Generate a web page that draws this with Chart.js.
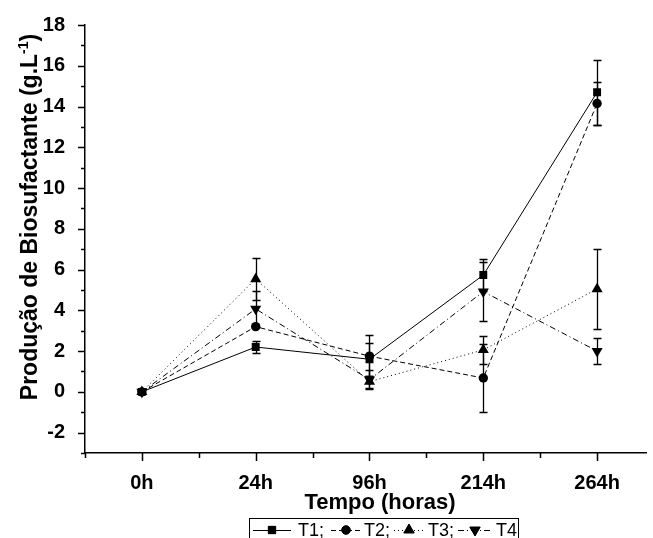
<!DOCTYPE html>
<html>
<head>
<meta charset="utf-8">
<script src="https://cdn.jsdelivr.net/npm/chart.js@4.4.1/dist/chart.umd.min.js"></script>
<style>
  html, body { margin: 0; padding: 0; background: #fff; }
</style>
</head>
<body>
<canvas id="grafico" width="653" height="538"></canvas>
<script>
// tempos de coleta
const categorias = ["0h", "24h", "96h", "214h", "264h"];

// producao media (g/L) por tratamento
const t1 = [0, 2.2, 1.6, 5.73, 14.7];
const t2 = [0, 3.2, 1.75, 0.68, 14.15];
const t3 = [0, 5.54, 0.5, 2.06, 5.05];
const t4 = [0, 4.07, 0.6, 4.92, 2.0];

// desvio padrao
const erroT1 = [0, 0.3, 0.8, 0.78, 1.6];
const erroT2 = [0, 0, 1.05, 1.67, 1.05];
const erroT3 = [0, 1.05, 0.3, 0.7, 1.95];
const erroT4 = [0, 0.9, 0.45, 1.45, 0.65];

const nomes = ["T1", "T2", "T3", "T4"];
const ticksY = [-2, 0, 2, 4, 6, 8, 10, 12, 14, 16, 18];

const FONTE = "'Liberation Sans', Arial, sans-serif";

const series = [
  { nome: nomes[0], valores: t1, erro: erroT1, estilo: "rect", raio: 5.6, rot: 0, dash: [] },
  { nome: nomes[1], valores: t2, erro: erroT2, estilo: "circle", raio: 4.7, rot: 0, dash: [5, 3] },
  { nome: nomes[2], valores: t3, erro: erroT3, estilo: "triangle", raio: 6.4, rot: 0, dash: [1, 3] },
  { nome: nomes[3], valores: t4, erro: erroT4, estilo: "triangle", raio: 6.4, rot: 180, dash: [6, 3, 1, 3] },
];

// barras de erro, desenhadas antes das linhas/pontos
const barrasErro = {
  id: "barrasErro",
  beforeDatasetsDraw(chart) {
    const { ctx, scales: { x, y } } = chart;
    ctx.save();
    ctx.strokeStyle = "#000";
    ctx.lineWidth = 1.3;
    series.forEach((s) => {
      s.valores.forEach((v, i) => {
        const e = s.erro[i];
        if (!e) return;
        const px = Math.round(x.getPixelForValue(i)) + 0.5;
        const topo = Math.round(y.getPixelForValue(v + e)) + 0.5;
        const base = Math.round(y.getPixelForValue(v - e)) + 0.5;
        ctx.beginPath();
        ctx.moveTo(px, topo); ctx.lineTo(px, base);
        ctx.moveTo(px - 4, topo); ctx.lineTo(px + 4, topo);
        ctx.moveTo(px - 4, base); ctx.lineTo(px + 4, base);
        ctx.stroke();
      });
    });
    ctx.restore();
  },
};

// marcas dos eixos (maiores e menores), titulos e legenda em caixa
const extras = {
  id: "extras",
  afterDraw(chart) {
    const { ctx, scales: { x, y }, chartArea } = chart;
    ctx.save();
    ctx.strokeStyle = "#000";
    ctx.lineWidth = 1.5;
    ctx.beginPath();
    for (let v = -3; v <= 18; v++) {
      const py = Math.round(y.getPixelForValue(v)) + 0.5;
      const len = v % 2 === 0 ? 7 : 4;
      ctx.moveTo(chartArea.left, py);
      ctx.lineTo(chartArea.left - len, py);
    }
    for (let v = -0.5; v <= 4.01; v += 0.5) {
      const px = Math.round(x.getPixelForValue(v)) + 0.5;
      const len = Number.isInteger(v) ? 8 : 5;
      ctx.moveTo(px, chartArea.bottom);
      ctx.lineTo(px, chartArea.bottom + len);
    }
    ctx.stroke();

    // titulo do eixo x
    ctx.fillStyle = "#000";
    ctx.font = "bold 22px " + FONTE;
    ctx.textAlign = "center";
    ctx.textBaseline = "alphabetic";
    ctx.fillText("Tempo (horas)", 380, 509);

    // titulo do eixo y com expoente
    const p1 = "Produção de Biosufactante (g.L";
    const sup = "-1";
    const p2 = ")";
    ctx.font = "bold 23px " + FONTE;
    const w1 = ctx.measureText(p1).width;
    const w3 = ctx.measureText(p2).width;
    ctx.font = "bold 14px " + FONTE;
    const w2 = ctx.measureText(sup).width;
    const total = w1 + w2 + w3;
    ctx.translate(37, 217);
    ctx.rotate(-Math.PI / 2);
    ctx.textAlign = "left";
    ctx.font = "bold 23px " + FONTE;
    ctx.fillText(p1, -total / 2, 0);
    ctx.font = "bold 14px " + FONTE;
    ctx.fillText(sup, -total / 2 + w1, -9);
    ctx.font = "bold 23px " + FONTE;
    ctx.fillText(p2, -total / 2 + w1 + w2, 0);
    ctx.setTransform(1, 0, 0, 1, 0, 0);

    // legenda
    ctx.lineWidth = 1;
    ctx.strokeRect(249.5, 518.5, 269, 30);
    const itens = [
      { x0: 253, x1: 291, tx: 298 },
      { x0: 331, x1: 361, tx: 364 },
      { x0: 394, x1: 424, tx: 428 },
      { x0: 458, x1: 492, tx: 496 },
    ];
    const ly = 530;
    ctx.font = "18px " + FONTE;
    ctx.textBaseline = "middle";
    series.forEach((s, i) => {
      const it = itens[i];
      ctx.save();
      ctx.setLineDash(s.dash);
      ctx.lineWidth = 1;
      ctx.beginPath();
      ctx.moveTo(it.x0, ly + 0.5);
      ctx.lineTo(it.x1, ly + 0.5);
      ctx.stroke();
      ctx.restore();
      Chart.helpers.drawPoint(ctx, { pointStyle: s.estilo, radius: s.raio - 0.4, rotation: s.rot, borderWidth: 1 },
        (it.x0 + it.x1) / 2, ly);
      ctx.fillStyle = "#000";
      ctx.fill();
      ctx.fillText(s.nome + (i < 3 ? ";" : ""), it.tx, ly + 1);
    });
    ctx.restore();
  },
};

new Chart(document.getElementById("grafico").getContext("2d"), {
  type: "line",
  data: {
    datasets: series.map((s) => ({
      label: s.nome,
      data: s.valores.map((v, i) => ({ x: i, y: v })),
      borderColor: "#000",
      backgroundColor: "#000",
      borderWidth: 1,
      borderDash: s.dash,
      pointStyle: s.estilo,
      pointRadius: s.raio,
      pointRotation: s.rot,
      pointBorderWidth: 0,
      pointBackgroundColor: "#000",
      tension: 0,
    })),
  },
  options: {
    responsive: false,
    animation: false,
    layout: { padding: { top: 25, right: 0, left: 0, bottom: 0 } },
    plugins: {
      legend: { display: false },
      tooltip: { enabled: false },
    },
    scales: {
      x: {
        type: "linear",
        min: -0.5,
        max: 4.435,
        grid: { display: false },
        border: { display: true, color: "#000", width: 1.5 },
        afterBuildTicks: (scale) => {
          scale.ticks = categorias.map((c, i) => ({ value: i }));
        },
        ticks: {
          autoSkip: false,
          maxRotation: 0,
          padding: 10,
          color: "#000",
          font: { family: FONTE, size: 20, weight: "bold" },
          callback: (v) => categorias[v],
        },
        afterFit: (scale) => { scale.height = 85; },
      },
      y: {
        min: -3,
        max: 18,
        grid: { display: false },
        border: { display: true, color: "#000", width: 1.5 },
        afterBuildTicks: (scale) => {
          scale.ticks = ticksY.map((v) => ({ value: v }));
        },
        ticks: {
          autoSkip: false,
          padding: 12,
          color: "#000",
          font: { family: FONTE, size: 20, weight: "bold" },
          callback: (v) => String(v),
        },
        afterFit: (scale) => { scale.width = 85; },
      },
    },
  },
  plugins: [barrasErro, extras],
});
</script>
</body>
</html>
